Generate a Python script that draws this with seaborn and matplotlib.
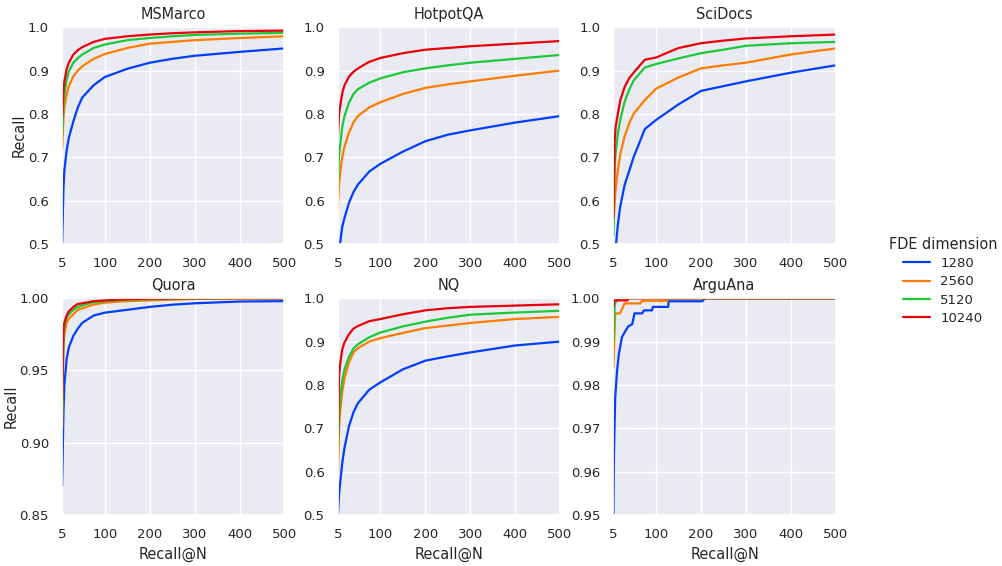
import pandas as pd
import matplotlib
matplotlib.use("Agg")
import matplotlib.pyplot as plt
import seaborn as sns

# Recall@N curves per dataset, one list per FDE dimension
n_grid = [5, 8, 10, 15, 20, 30, 40, 50, 75, 100, 150, 200, 250, 300, 400, 500]
dims = ["1280", "2560", "5120", "10240"]

msmarco_1280 = [0.50, 0.63, 0.67, 0.715, 0.745, 0.783, 0.815, 0.838, 0.866, 0.885, 0.904, 0.918, 0.927, 0.934, 0.943, 0.951]
msmarco_2560 = [0.72, 0.79, 0.814, 0.845, 0.864, 0.887, 0.90, 0.91, 0.927, 0.938, 0.952, 0.962, 0.966, 0.970, 0.975, 0.979]
msmarco_5120 = [0.75, 0.82, 0.845, 0.878, 0.898, 0.918, 0.929, 0.937, 0.952, 0.96, 0.97, 0.975, 0.979, 0.982, 0.985, 0.987]
msmarco_10240 = [0.79, 0.855, 0.875, 0.903, 0.918, 0.937, 0.947, 0.954, 0.966, 0.973, 0.979, 0.983, 0.986, 0.988, 0.991, 0.992]

hotpot_1280 = [0.44, 0.48, 0.50, 0.54, 0.56, 0.595, 0.62, 0.637, 0.667, 0.685, 0.713, 0.737, 0.752, 0.762, 0.780, 0.795]
hotpot_2560 = [0.58, 0.64, 0.66, 0.70, 0.725, 0.757, 0.78, 0.795, 0.815, 0.827, 0.846, 0.86, 0.868, 0.875, 0.888, 0.90]
hotpot_5120 = [0.64, 0.705, 0.725, 0.77, 0.795, 0.826, 0.846, 0.857, 0.872, 0.882, 0.896, 0.905, 0.912, 0.918, 0.927, 0.936]
hotpot_10240 = [0.74, 0.80, 0.815, 0.848, 0.866, 0.886, 0.897, 0.905, 0.92, 0.929, 0.94, 0.948, 0.952, 0.956, 0.962, 0.968]

scidocs_1280 = [0.40, 0.46, 0.49, 0.545, 0.585, 0.636, 0.668, 0.70, 0.765, 0.786, 0.822, 0.853, 0.864, 0.875, 0.895, 0.912]
scidocs_2560 = [0.54, 0.60, 0.628, 0.67, 0.705, 0.748, 0.778, 0.80, 0.832, 0.858, 0.884, 0.905, 0.912, 0.918, 0.937, 0.951]
scidocs_5120 = [0.52, 0.68, 0.71, 0.755, 0.785, 0.828, 0.855, 0.877, 0.907, 0.915, 0.928, 0.94, 0.948, 0.957, 0.963, 0.966]
scidocs_10240 = [0.56, 0.74, 0.77, 0.80, 0.83, 0.862, 0.882, 0.895, 0.925, 0.93, 0.952, 0.963, 0.969, 0.974, 0.979, 0.983]

quora_1280 = [0.87, 0.922, 0.94, 0.958, 0.966, 0.974, 0.979, 0.983, 0.988, 0.990, 0.992, 0.994, 0.9955, 0.9965, 0.9977, 0.998]
quora_2560 = [0.91, 0.968, 0.975, 0.983, 0.986, 0.989, 0.992, 0.993, 0.9955, 0.997, 0.998, 0.9985, 0.999, 0.9995, 0.9998, 1.0]
quora_5120 = [0.92, 0.975, 0.98, 0.987, 0.989, 0.992, 0.994, 0.995, 0.9972, 0.998, 0.999, 0.9993, 0.9996, 0.9998, 1.0, 1.0]
quora_10240 = [0.93, 0.978, 0.983, 0.988, 0.991, 0.994, 0.996, 0.9965, 0.998, 0.9985, 0.9993, 0.9997, 0.9999, 1.0, 1.0, 1.0]

nq_1280 = [0.49, 0.55, 0.57, 0.62, 0.655, 0.705, 0.737, 0.758, 0.789, 0.806, 0.836, 0.856, 0.866, 0.875, 0.891, 0.90]
nq_2560 = [0.57, 0.70, 0.735, 0.785, 0.815, 0.853, 0.875, 0.885, 0.90, 0.908, 0.92, 0.931, 0.937, 0.943, 0.952, 0.957]
nq_5120 = [0.63, 0.735, 0.765, 0.81, 0.836, 0.865, 0.884, 0.894, 0.91, 0.921, 0.935, 0.946, 0.955, 0.962, 0.967, 0.971]
nq_10240 = [0.66, 0.82, 0.845, 0.882, 0.898, 0.917, 0.93, 0.936, 0.947, 0.952, 0.963, 0.972, 0.977, 0.98, 0.983, 0.986]

# ArguAna is step-like, so each series has its own N points
argu_n_1280 = [5, 6, 7, 9, 13, 17, 24, 32, 38, 47, 52, 69, 73, 91, 93, 127, 128, 203, 209, 500]
argu_1280 = [0.95, 0.962, 0.968, 0.977, 0.983, 0.987, 0.991, 0.9925, 0.9935, 0.994, 0.9965, 0.9965, 0.9972,
             0.9972, 0.998, 0.998, 0.9993, 0.9993, 1.0, 1.0]
argu_n_2560 = [5, 9, 20, 30, 65, 69, 125, 128, 500]
argu_2560 = [0.984, 0.9965, 0.9965, 0.9988, 0.9988, 0.9994, 0.9994, 1.0, 1.0]
argu_n_5120 = [5, 8, 13, 18, 500]
argu_5120 = [0.99, 0.9988, 0.9995, 1.0, 1.0]
argu_n_10240 = [5, 7, 36, 39, 500]
argu_10240 = [0.998, 0.9995, 0.9995, 1.0, 1.0]

datasets = ["MSMarco", "HotpotQA", "SciDocs", "Quora", "NQ", "ArguAna"]
series = {
    "MSMarco": [(n_grid, msmarco_1280), (n_grid, msmarco_2560), (n_grid, msmarco_5120), (n_grid, msmarco_10240)],
    "HotpotQA": [(n_grid, hotpot_1280), (n_grid, hotpot_2560), (n_grid, hotpot_5120), (n_grid, hotpot_10240)],
    "SciDocs": [(n_grid, scidocs_1280), (n_grid, scidocs_2560), (n_grid, scidocs_5120), (n_grid, scidocs_10240)],
    "Quora": [(n_grid, quora_1280), (n_grid, quora_2560), (n_grid, quora_5120), (n_grid, quora_10240)],
    "NQ": [(n_grid, nq_1280), (n_grid, nq_2560), (n_grid, nq_5120), (n_grid, nq_10240)],
    "ArguAna": [(argu_n_1280, argu_1280), (argu_n_2560, argu_2560),
                (argu_n_5120, argu_5120), (argu_n_10240, argu_10240)],
}
ylims = {
    "MSMarco": (0.5, 1.0), "HotpotQA": (0.5, 1.0), "SciDocs": (0.5, 1.0),
    "Quora": (0.85, 1.0), "NQ": (0.5, 1.0), "ArguAna": (0.95, 1.0),
}
yticks = {
    "MSMarco": [0.5, 0.6, 0.7, 0.8, 0.9, 1.0], "HotpotQA": [0.5, 0.6, 0.7, 0.8, 0.9, 1.0],
    "SciDocs": [0.5, 0.6, 0.7, 0.8, 0.9, 1.0], "Quora": [0.85, 0.90, 0.95, 1.00],
    "NQ": [0.5, 0.6, 0.7, 0.8, 0.9, 1.0], "ArguAna": [0.95, 0.96, 0.97, 0.98, 0.99, 1.00],
}
ytick_labels = {
    "MSMarco": ["0.5", "0.6", "0.7", "0.8", "0.9", "1.0"],
    "HotpotQA": ["0.5", "0.6", "0.7", "0.8", "0.9", "1.0"],
    "SciDocs": ["0.5", "0.6", "0.7", "0.8", "0.9", "1.0"],
    "Quora": ["0.85", "0.90", "0.95", "1.00"],
    "NQ": ["0.5", "0.6", "0.7", "0.8", "0.9", "1.0"],
    "ArguAna": ["0.95", "0.96", "0.97", "0.98", "0.99", "1.00"],
}
xticks = [5, 100, 200, 300, 400, 500]

sns.set_theme(style="darkgrid", font_scale=0.87)
colors = sns.color_palette("bright", 4)

fig, axes = plt.subplots(2, 3, figsize=(10.02, 5.66), dpi=100)
fig.subplots_adjust(left=0.062, right=0.834, top=0.952, bottom=0.09, wspace=0.24, hspace=0.25)

for i, (ax, name) in enumerate(zip(axes.flat, datasets)):
    rows = []
    for dim, (ns, vals) in zip(dims, series[name]):
        for n, v in zip(ns, vals):
            rows.append({"N": n, "Recall": v, "FDE dimension": dim})
    df = pd.DataFrame(rows)
    sns.lineplot(data=df, x="N", y="Recall", hue="FDE dimension", hue_order=dims,
                 palette=colors, ax=ax, legend=False, estimator=None, sort=True, linewidth=1.6)
    ax.set_xlim(5, 500)
    ax.set_ylim(*ylims[name])
    ax.set_xticks(xticks)
    ax.set_yticks(yticks[name])
    ax.set_yticklabels(ytick_labels[name])
    ax.set_title(name)
    ax.set_ylabel("Recall" if i % 3 == 0 else "", labelpad=1)
    ax.set_xlabel("Recall@N" if i >= 3 else "")

handles = [plt.Line2D([], [], color=c, linewidth=1.6) for c in colors]
fig.legend(handles, dims, title="FDE dimension", loc="center", bbox_to_anchor=(0.941, 0.504),
           frameon=False, labelspacing=0.4)

plt.savefig("out.png", dpi=100)
